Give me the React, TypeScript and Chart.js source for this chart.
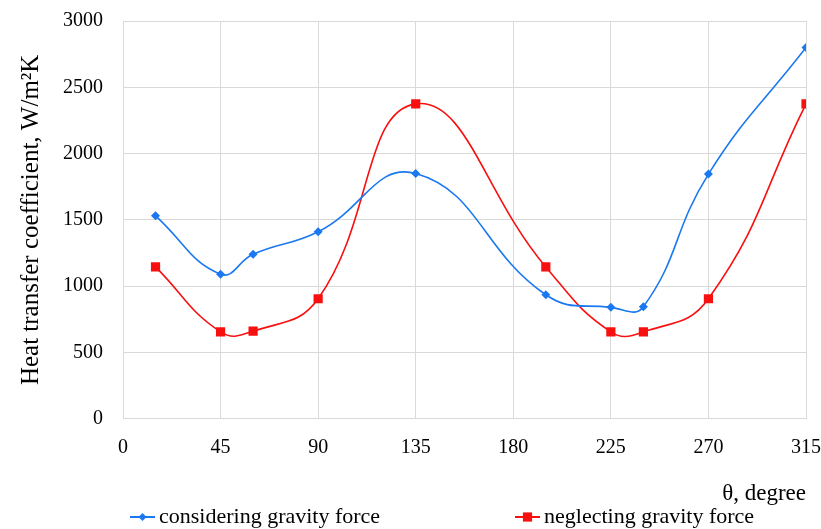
import React, { useEffect, useRef } from "react";
import { Chart, registerables } from "chart.js";

Chart.register(...registerables);

const angles = [15, 45, 60, 90, 135, 195, 225, 240, 270, 315];
const considering = [1530, 1090, 1240, 1410, 1850, 935, 840, 845, 1845, 2800];
const neglecting = [1145, 655, 660, 905, 2375, 1145, 655, 655, 905, 2375];
const xTicks = [0, 45, 90, 135, 180, 225, 270, 315];
const seriesLabels = ["considering gravity force", "neglecting gravity force"];

const BLUE = "#1a78f0";
const RED = "#f81010";
const FONT = "'Liberation Serif', 'Times New Roman', serif";

const legendPlugin = {
  id: "customLegend",
  afterDraw(chart: any) {
    const ctx = chart.ctx as CanvasRenderingContext2D;
    const y = 517;
    const items = [
      { x: 130, color: BLUE, style: "rectRot", r: 4 },
      { x: 515, color: RED, style: "rect", r: 6.5 },
    ];
    ctx.save();
    chart.data.datasets.forEach((ds: any, i: number) => {
      const it = items[i];
      ctx.strokeStyle = it.color;
      ctx.lineWidth = 2;
      ctx.beginPath();
      ctx.moveTo(it.x, y);
      ctx.lineTo(it.x + 25, y);
      ctx.stroke();
      ctx.fillStyle = it.color;
      ctx.beginPath();
      const cx = it.x + 12.5;
      if (it.style === "rectRot") {
        ctx.moveTo(cx, y - it.r);
        ctx.lineTo(cx + it.r, y);
        ctx.lineTo(cx, y + it.r);
        ctx.lineTo(cx - it.r, y);
        ctx.closePath();
      } else {
        const s = it.r * Math.SQRT1_2;
        ctx.rect(cx - s, y - s, 2 * s, 2 * s);
      }
      ctx.fill();
      ctx.fillStyle = "#000";
      ctx.font = `22px ${FONT}`;
      ctx.textBaseline = "middle";
      ctx.textAlign = "left";
      ctx.fillText(ds.label, it.x + 29, y);
    });
    ctx.restore();
  },
};

export default function App() {
  const ref = useRef<HTMLCanvasElement>(null);
  useEffect(() => {
    document.body.style.margin = "0";
    const chart = new Chart(ref.current!, {
      type: "line",
      data: {
        datasets: [
          {
            label: seriesLabels[0],
            data: angles.map((a, i) => ({ x: a, y: considering[i] })),
            borderColor: BLUE,
            backgroundColor: BLUE,
            borderWidth: 1.6,
            pointStyle: "rectRot",
            pointRadius: 4.5,
            pointBorderWidth: 0,
            tension: 0.45,
          },
          {
            label: seriesLabels[1],
            data: angles.map((a, i) => ({ x: a, y: neglecting[i] })),
            borderColor: RED,
            backgroundColor: RED,
            borderWidth: 1.6,
            pointStyle: "rect",
            pointRadius: 6.5,
            pointBorderWidth: 0,
            tension: 0.45,
          },
        ],
      },
      options: {
        animation: false,
        responsive: false,
        layout: { padding: { top: 0, right: 0, bottom: 22, left: 0 } },
        plugins: { legend: { display: false }, tooltip: { enabled: false } },
        scales: {
          x: {
            type: "linear",
            min: 0,
            max: 315,
            afterBuildTicks: (axis: any) => {
              axis.ticks = xTicks.map((v) => ({ value: v }));
            },
            grid: { color: "#d9d9d9", drawTicks: false },
            border: { color: "#d9d9d9" },
            ticks: {
              color: "#000",
              font: { family: FONT, size: 20, lineHeight: 2.9 },
              padding: 0,
              maxRotation: 0,
            },
            title: {
              display: true,
              text: "θ, degree",
              align: "end",
              color: "#000",
              font: { family: FONT, size: 23, lineHeight: 1.1 },
              padding: { top: 5, bottom: 0 },
            },
          },
          y: {
            min: 0,
            max: 3000,
            ticks: {
              stepSize: 500,
              color: "#000",
              font: { family: FONT, size: 20, lineHeight: 0.1 },
              padding: 20,
              callback: (v: any) => String(v),
            },
            grid: { color: "#d9d9d9", drawTicks: false },
            border: { color: "#d9d9d9" },
            title: {
              display: true,
              text: "Heat transfer coefficient, W/m²K",
              color: "#000",
              font: { family: FONT, size: 25 },
              padding: { top: 16, bottom: -3 },
            },
          },
        },
      },
      plugins: [legendPlugin],
    });
    return () => chart.destroy();
  }, []);
  return (
    <div style={{ width: 821, height: 529 }}>
      <canvas ref={ref} width={821} height={529} />
    </div>
  );
}
